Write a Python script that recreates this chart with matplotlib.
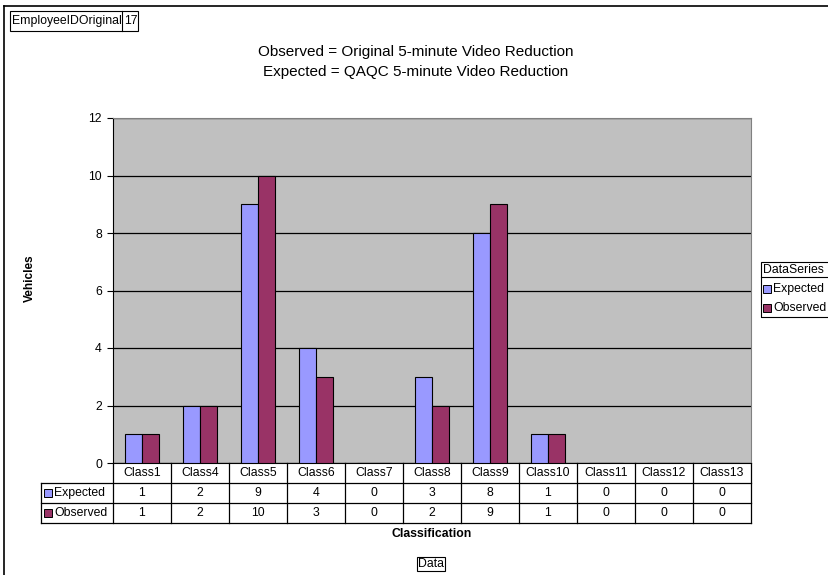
import numpy as np
import matplotlib
matplotlib.use("Agg")
import matplotlib.pyplot as plt
from matplotlib.lines import Line2D
from matplotlib.patches import Rectangle
from matplotlib.transforms import blended_transform_factory

plt.rcParams['font.family'] = ['Liberation Sans', 'DejaVu Sans']

categories = ["Class1", "Class4", "Class5", "Class6", "Class7", "Class8",
              "Class9", "Class10", "Class11", "Class12", "Class13"]
expected = [1, 2, 9, 4, 0, 3, 8, 1, 0, 0, 0]
observed = [1, 2, 10, 3, 0, 2, 9, 1, 0, 0, 0]
series_names = ["Expected", "Observed"]
colors = ["#9999FF", "#993366"]

W, H = 829, 575
fs = 8.8
fig = plt.figure(figsize=(W / 100, H / 100), dpi=100)


def fx(px):
    return px / W


def fy(py):
    return 1 - py / H


# outer frame (top and left edges visible)
fig.add_artist(Line2D([fx(4), 1], [fy(6), fy(6)], color="black", lw=1.2))
fig.add_artist(Line2D([fx(4), fx(4)], [fy(6), 0], color="black", lw=1.2))

# page field box
fig.text(fx(12), fy(21), "EmployeeIDOriginal", fontsize=fs, va="center", ha="left")
fig.text(fx(124), fy(21), "17", fontsize=fs, va="center", ha="left")
fig.add_artist(Rectangle((fx(10), fy(31)), fx(128), fy(11) - fy(31), fill=False,
                         edgecolor="black", lw=0.8))
fig.add_artist(Line2D([fx(122), fx(122)], [fy(31), fy(11)], color="black", lw=0.8))

fig.text(fx(416), fy(52), "Observed = Original 5-minute Video Reduction",
         fontsize=11, ha="center", va="center")
fig.text(fx(416), fy(72), "Expected = QAQC 5-minute Video Reduction",
         fontsize=11, ha="center", va="center")

left, right, top, bottom = 113, 751, 118, 463
ax = fig.add_axes([fx(left), fy(bottom), fx(right - left), fy(top) - fy(bottom)])
ax.set_facecolor("#C0C0C0")

x = np.arange(len(categories))
w = 0.29
ax.bar(x - w / 2, expected, w, color=colors[0], edgecolor="black", lw=0.8, zorder=3)
ax.bar(x + w / 2, observed, w, color=colors[1], edgecolor="black", lw=0.8, zorder=3)

ax.set_xlim(-0.5, len(categories) - 0.5)
ax.set_ylim(0, 12)
ax.set_yticks(range(0, 13, 2))
ax.yaxis.grid(True, color="black", lw=0.9, zorder=1)
ax.set_axisbelow(True)
ax.set_xticks([])
ax.tick_params(axis="y", labelsize=fs, length=4, width=0.8, direction="out", pad=4)
for s in ["top", "right"]:
    ax.spines[s].set_color("#808080")
for s in ["left", "bottom"]:
    ax.spines[s].set_color("black")

fig.text(fx(30), fy(278), "Vehicles", rotation=90, fontsize=8.5, fontweight="bold",
         ha="center", va="center")

# data table under the axis
tr = blended_transform_factory(ax.transData, fig.transFigure)
rows = [463, 483, 503, 523]
lab_left = 41
for y in rows[1:]:
    fig.add_artist(Line2D([fx(lab_left), fx(right)], [fy(y), fy(y)], color="black", lw=0.9))
for i in range(len(categories) + 1):
    ax.add_line(Line2D([i - 0.5, i - 0.5], [fy(rows[0]), fy(rows[3])], transform=tr,
                       color="black", lw=0.9, clip_on=False))
fig.add_artist(Line2D([fx(lab_left), fx(lab_left)], [fy(rows[1]), fy(rows[3])],
                      color="black", lw=0.9))

for i, c in enumerate(categories):
    ax.text(i, fy((rows[0] + rows[1]) / 2), c, transform=tr, fontsize=fs,
            ha="center", va="center")
    ax.text(i, fy((rows[1] + rows[2]) / 2), str(expected[i]), transform=tr,
            fontsize=fs, ha="center", va="center")
    ax.text(i, fy((rows[2] + rows[3]) / 2), str(observed[i]), transform=tr,
            fontsize=fs, ha="center", va="center")

for k, name in enumerate(series_names):
    yc = (rows[k + 1] + rows[k + 2]) / 2
    fig.add_artist(Rectangle((fx(44), fy(yc + 4)), fx(8), fy(yc - 4) - fy(yc + 4),
                             facecolor=colors[k], edgecolor="black", lw=0.7))
    fig.text(fx(54), fy(yc), name, fontsize=fs, ha="left", va="center")

fig.text(fx(432), fy(534), "Classification", fontsize=fs, fontweight="bold",
         ha="center", va="center")

fig.text(fx(431), fy(564), "Data", fontsize=fs, ha="center", va="center",
         bbox=dict(boxstyle="square,pad=0.12", facecolor="white", edgecolor="black", lw=0.8))

# legend
lx0, ly0, ly1 = 761, 262, 317
fig.add_artist(Rectangle((fx(lx0), fy(ly1)), 1 - fx(lx0) + 0.01, fy(ly0) - fy(ly1),
                         fill=False, edgecolor="black", lw=0.8))
fig.add_artist(Line2D([fx(lx0), 1], [fy(277), fy(277)], color="black", lw=0.8))
fig.text(fx(lx0 + 2), fy(270), "DataSeries", fontsize=fs, ha="left", va="center")
for k, name in enumerate(series_names):
    yc = 289 + 19 * k
    fig.add_artist(Rectangle((fx(lx0 + 2), fy(yc + 4)), fx(8), fy(yc - 4) - fy(yc + 4),
                             facecolor=colors[k], edgecolor="black", lw=0.7))
    fig.text(fx(lx0 + 12), fy(yc), name, fontsize=fs, ha="left", va="center")

fig.savefig("out.png", dpi=100)
